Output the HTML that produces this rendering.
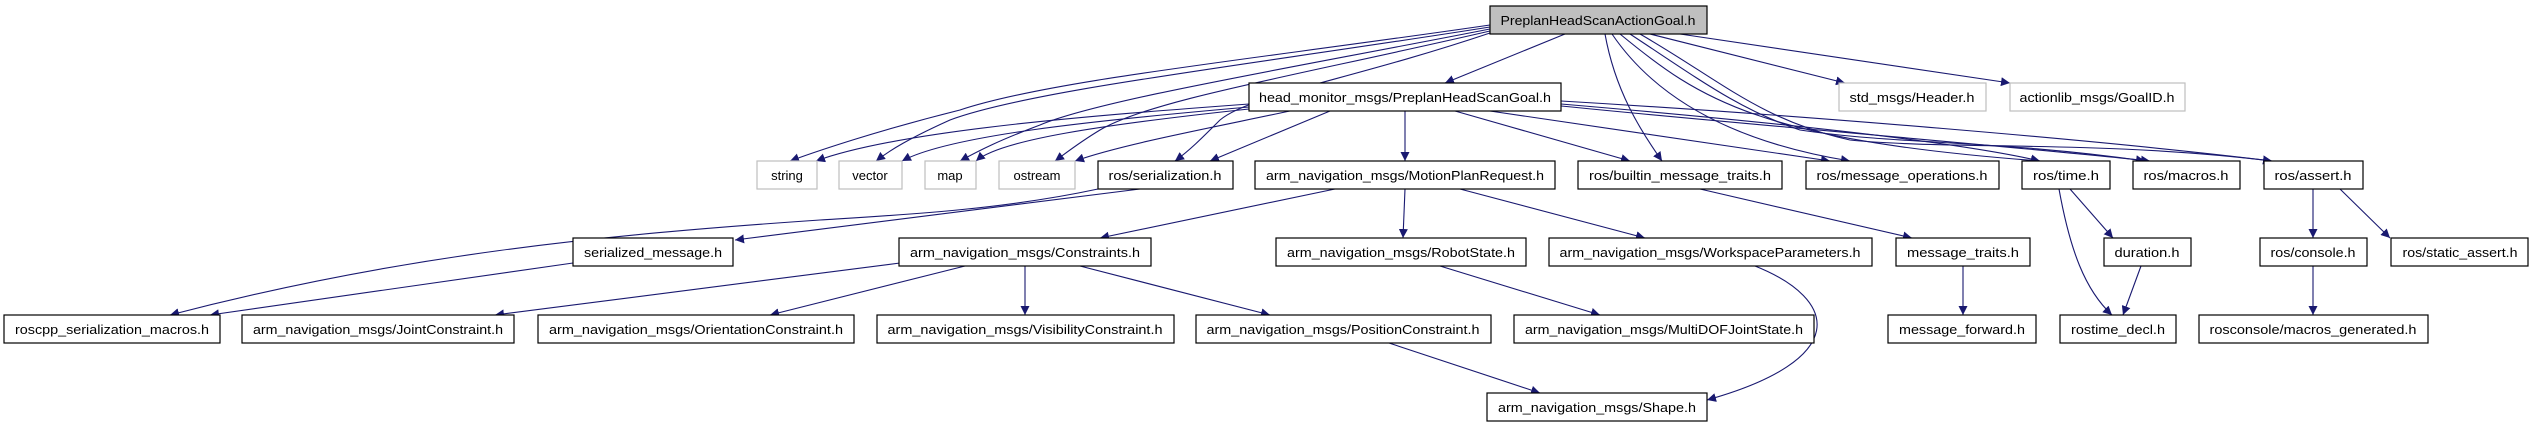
<!DOCTYPE html>
<html><head><meta charset="utf-8"><style>
html,body{margin:0;padding:0;background:#fff;}
svg{display:block;}
text{font-family:"Liberation Sans",sans-serif;font-size:13px;fill:#000;}
.n{fill:#fff;stroke:#000;stroke-width:1.2;}
.g{fill:#fff;stroke:#bfbfbf;stroke-width:1.2;}
.e{fill:none;stroke:#191970;stroke-width:1.1;}
</style></head><body>
<svg width="2532" height="427" viewBox="0 0 2532 427" xmlns="http://www.w3.org/2000/svg">
<defs><marker id="a" viewBox="0 0 10 10" refX="10" refY="5" markerWidth="9" markerHeight="9" markerUnits="userSpaceOnUse" orient="auto"><path d="M0,0 L10,5 L0,10 z" fill="#191970"/></marker></defs>
<g class="e" marker-end="url(#a)">
<!-- top node edges -->
<path d="M1490 25 C1250 60 1050 80 960 110 C880 130 820 150 790 161"/>
<path d="M1490 27 C1250 65 1030 90 950 120 C910 138 890 150 876 161"/>
<path d="M1490 29 C1280 70 1100 100 1040 125 C1000 140 980 150 960 161"/>
<path d="M1490 31 C1300 75 1150 100 1100 130 C1080 142 1070 150 1055 161"/>
<path d="M1490 33 C1350 80 1250 95 1220 120 C1200 140 1190 150 1175 161"/>
<path d="M1565 34 L1445 83"/>
<path d="M1605 34 C1615 90 1640 130 1662 161"/>
<path d="M1612 34 C1650 90 1720 140 1850 161"/>
<path d="M1620 34 C1700 100 1760 140 2040 161"/>
<path d="M1630 34 C1700 80 1740 110 1800 130 C1900 145 2000 140 2145 161"/>
<path d="M1640 34 C1720 80 1760 120 1850 140 C1950 150 2100 140 2272 161"/>
<path d="M1650 34 L1845 83"/>
<path d="M1680 34 L2010 83"/>
<!-- head_monitor edges -->
<path d="M1249 104 C1100 115 900 130 816 161"/>
<path d="M1249 107 C1100 120 950 135 902 161"/>
<path d="M1249 109 C1100 125 1000 140 976 161"/>
<path d="M1290 111 C1200 130 1120 145 1075 161"/>
<path d="M1330 111 L1210 161"/>
<path d="M1405 111 L1405 161"/>
<path d="M1455 111 L1630 161"/>
<path d="M1490 111 L1830 161"/>
<path d="M1561 104 C1750 120 1950 140 2040 161"/>
<path d="M1561 106 C1750 125 2000 145 2150 161"/>
<path d="M1561 101 C1800 115 2100 140 2272 161"/>
<!-- lower -->
<path d="M1098 189 C1000 210 900 215 820 220 C600 235 400 255 170 315"/>
<path d="M1140 189 L735 240"/>
<path d="M573 263 L210 315"/>
<path d="M1335 189 L1100 238"/>
<path d="M1405 189 L1403 238"/>
<path d="M1460 189 L1645 238"/>
<path d="M1700 189 L1912 238"/>
<path d="M900 263 L495 315"/>
<path d="M965 266 L770 315"/>
<path d="M1025 266 L1025 315"/>
<path d="M1080 266 L1270 315"/>
<path d="M1440 266 L1600 315"/>
<path d="M1755 266 C1840 300 1850 360 1707 400"/>
<path d="M1389 343 L1540 393"/>
<path d="M1963 266 L1963 315"/>
<path d="M2070 189 L2113 238"/>
<path d="M2059 189 C2070 250 2085 290 2112 315"/>
<path d="M2141 266 L2123 315"/>
<path d="M2313 189 L2313 238"/>
<path d="M2340 189 L2390 238"/>
<path d="M2313 266 L2313 315"/>
</g>
<!-- nodes -->
<rect x="1490" y="6" width="217" height="28" fill="#bfbfbf" stroke="#000" stroke-width="1.2"/><text x="1598" y="25" text-anchor="middle" textLength="195" lengthAdjust="spacingAndGlyphs">PreplanHeadScanActionGoal.h</text>
<rect class="n" x="1249" y="83" width="312" height="28"/><text x="1405" y="102" text-anchor="middle" textLength="292" lengthAdjust="spacingAndGlyphs">head_monitor_msgs/PreplanHeadScanGoal.h</text>
<rect class="g" x="1839" y="83" width="147" height="28"/><text x="1912" y="102" text-anchor="middle" textLength="125" lengthAdjust="spacingAndGlyphs">std_msgs/Header.h</text>
<rect class="g" x="2010" y="83" width="175" height="28"/><text x="2097" y="102" text-anchor="middle" textLength="155" lengthAdjust="spacingAndGlyphs">actionlib_msgs/GoalID.h</text>

<rect class="g" x="757" y="161" width="60" height="28"/><text x="787" y="180" text-anchor="middle">string</text>
<rect class="g" x="839" y="161" width="63" height="28"/><text x="870" y="180" text-anchor="middle">vector</text>
<rect class="g" x="925" y="161" width="51" height="28"/><text x="950" y="180" text-anchor="middle">map</text>
<rect class="g" x="999" y="161" width="76" height="28"/><text x="1037" y="180" text-anchor="middle">ostream</text>
<rect class="n" x="1098" y="161" width="135" height="28"/><text x="1165" y="180" text-anchor="middle" textLength="113" lengthAdjust="spacingAndGlyphs">ros/serialization.h</text>
<rect class="n" x="1255" y="161" width="300" height="28"/><text x="1405" y="180" text-anchor="middle" textLength="278" lengthAdjust="spacingAndGlyphs">arm_navigation_msgs/MotionPlanRequest.h</text>
<rect class="n" x="1578" y="161" width="204" height="28"/><text x="1680" y="180" text-anchor="middle" textLength="182" lengthAdjust="spacingAndGlyphs">ros/builtin_message_traits.h</text>
<rect class="n" x="1806" y="161" width="193" height="28"/><text x="1902" y="180" text-anchor="middle" textLength="171" lengthAdjust="spacingAndGlyphs">ros/message_operations.h</text>
<rect class="n" x="2022" y="161" width="88" height="28"/><text x="2066" y="180" text-anchor="middle" textLength="66" lengthAdjust="spacingAndGlyphs">ros/time.h</text>
<rect class="n" x="2133" y="161" width="107" height="28"/><text x="2186" y="180" text-anchor="middle" textLength="85" lengthAdjust="spacingAndGlyphs">ros/macros.h</text>
<rect class="n" x="2264" y="161" width="99" height="28"/><text x="2313" y="180" text-anchor="middle" textLength="77" lengthAdjust="spacingAndGlyphs">ros/assert.h</text>

<rect class="n" x="573" y="238" width="160" height="28"/><text x="653" y="257" text-anchor="middle" textLength="138" lengthAdjust="spacingAndGlyphs">serialized_message.h</text>
<rect class="n" x="899" y="238" width="252" height="28"/><text x="1025" y="257" text-anchor="middle" textLength="230" lengthAdjust="spacingAndGlyphs">arm_navigation_msgs/Constraints.h</text>
<rect class="n" x="1276" y="238" width="250" height="28"/><text x="1401" y="257" text-anchor="middle" textLength="228" lengthAdjust="spacingAndGlyphs">arm_navigation_msgs/RobotState.h</text>
<rect class="n" x="1549" y="238" width="323" height="28"/><text x="1710" y="257" text-anchor="middle" textLength="301" lengthAdjust="spacingAndGlyphs">arm_navigation_msgs/WorkspaceParameters.h</text>
<rect class="n" x="1896" y="238" width="134" height="28"/><text x="1963" y="257" text-anchor="middle" textLength="112" lengthAdjust="spacingAndGlyphs">message_traits.h</text>
<rect class="n" x="2104" y="238" width="87" height="28"/><text x="2147" y="257" text-anchor="middle" textLength="65" lengthAdjust="spacingAndGlyphs">duration.h</text>
<rect class="n" x="2260" y="238" width="107" height="28"/><text x="2313" y="257" text-anchor="middle" textLength="85" lengthAdjust="spacingAndGlyphs">ros/console.h</text>
<rect class="n" x="2391" y="238" width="137" height="28"/><text x="2460" y="257" text-anchor="middle" textLength="115" lengthAdjust="spacingAndGlyphs">ros/static_assert.h</text>

<rect class="n" x="4" y="315" width="216" height="28"/><text x="112" y="334" text-anchor="middle" textLength="194" lengthAdjust="spacingAndGlyphs">roscpp_serialization_macros.h</text>
<rect class="n" x="242" y="315" width="272" height="28"/><text x="378" y="334" text-anchor="middle" textLength="250" lengthAdjust="spacingAndGlyphs">arm_navigation_msgs/JointConstraint.h</text>
<rect class="n" x="538" y="315" width="316" height="28"/><text x="696" y="334" text-anchor="middle" textLength="294" lengthAdjust="spacingAndGlyphs">arm_navigation_msgs/OrientationConstraint.h</text>
<rect class="n" x="877" y="315" width="297" height="28"/><text x="1025" y="334" text-anchor="middle" textLength="275" lengthAdjust="spacingAndGlyphs">arm_navigation_msgs/VisibilityConstraint.h</text>
<rect class="n" x="1196" y="315" width="295" height="28"/><text x="1343" y="334" text-anchor="middle" textLength="273" lengthAdjust="spacingAndGlyphs">arm_navigation_msgs/PositionConstraint.h</text>
<rect class="n" x="1514" y="315" width="300" height="28"/><text x="1664" y="334" text-anchor="middle" textLength="278" lengthAdjust="spacingAndGlyphs">arm_navigation_msgs/MultiDOFJointState.h</text>
<rect class="n" x="1888" y="315" width="148" height="28"/><text x="1962" y="334" text-anchor="middle" textLength="126" lengthAdjust="spacingAndGlyphs">message_forward.h</text>
<rect class="n" x="2060" y="315" width="116" height="28"/><text x="2118" y="334" text-anchor="middle" textLength="94" lengthAdjust="spacingAndGlyphs">rostime_decl.h</text>
<rect class="n" x="2199" y="315" width="229" height="28"/><text x="2313" y="334" text-anchor="middle" textLength="207" lengthAdjust="spacingAndGlyphs">rosconsole/macros_generated.h</text>

<rect class="n" x="1487" y="393" width="220" height="28"/><text x="1597" y="412" text-anchor="middle" textLength="198" lengthAdjust="spacingAndGlyphs">arm_navigation_msgs/Shape.h</text>
</svg>
</body></html>
